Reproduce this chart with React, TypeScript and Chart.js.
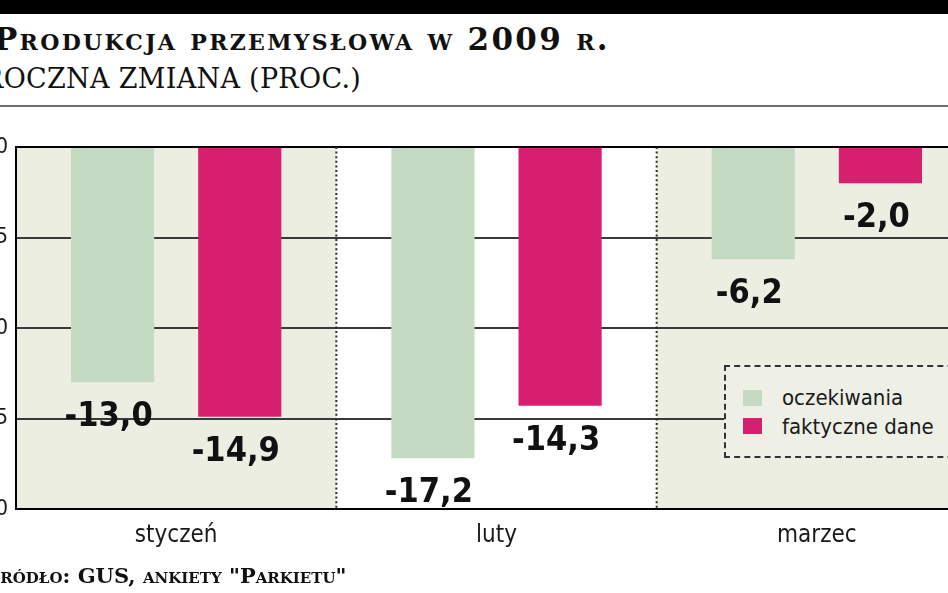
import React, { useEffect, useRef } from 'react';
import { Chart, registerables } from 'chart.js';

Chart.register(...registerables);

const TITLE = 'Produkcja przemysłowa w 2009 r.';
const SUBTITLE = 'ROCZNA ZMIANA (PROC.)';
const SOURCE = 'Źródło: GUS, ankiety "Parkietu"';

const categories = ['styczeń', 'luty', 'marzec'];
const seriesNames = ['oczekiwania', 'faktyczne dane'];
const expected = [-13.0, -17.2, -6.2];
const actual = [-14.9, -14.3, -2.0];
const yTicks = [0, -5, -10, -15, -20];

const COLORS = ['#c5dac3', '#d6206f'];
const BANDS = ['#eceee2', '#ffffff'];
const SANS = "'DejaVu Sans Condensed', 'DejaVu Sans', sans-serif";
const SERIF = "'DejaVu Serif', serif";

export default function App() {
  const ref = useRef<HTMLCanvasElement>(null);

  useEffect(() => {
    const bands = {
      id: 'bands',
      beforeDraw(chart: any) {
        const { ctx, chartArea } = chart;
        const xs = chart.scales.x;
        const half = (chartArea.right - chartArea.left) / categories.length / 2;
        ctx.save();
        categories.forEach((_, i) => {
          const cx = xs.getPixelForValue(i);
          ctx.fillStyle = BANDS[i % 2];
          ctx.fillRect(cx - half, chartArea.top, half * 2, chartArea.bottom - chartArea.top);
        });
        ctx.restore();
      },
    };
    const separators = {
      id: 'separators',
      beforeDatasetsDraw(chart: any) {
        const { ctx, chartArea } = chart;
        const xs = chart.scales.x;
        ctx.save();
        ctx.strokeStyle = '#2a2a2a';
        ctx.lineWidth = 2;
        ctx.setLineDash([2, 2.6]);
        for (let i = 0; i < categories.length - 1; i++) {
          const x = (xs.getPixelForValue(i) + xs.getPixelForValue(i + 1)) / 2;
          ctx.beginPath();
          ctx.moveTo(x, chartArea.top);
          ctx.lineTo(x, chartArea.bottom);
          ctx.stroke();
        }
        ctx.restore();
      },
    };
    const valueLabels = {
      id: 'valueLabels',
      afterDatasetsDraw(chart: any) {
        const { ctx } = chart;
        ctx.save();
        ctx.font = `bold 34px ${SANS}`;
        ctx.fillStyle = '#111111';
        ctx.textAlign = 'center';
        ctx.textBaseline = 'alphabetic';
        chart.data.datasets.forEach((ds: any, di: number) => {
          chart.getDatasetMeta(di).data.forEach((bar: any, i: number) => {
            const v = ds.data[i] as number;
            ctx.fillText(v.toFixed(1).replace('.', ','), bar.x - 4, bar.y + 44);
          });
        });
        ctx.restore();
      },
    };

    const chart = new Chart(ref.current as HTMLCanvasElement, {
      type: 'bar',
      data: {
        labels: categories,
        datasets: [
          {
            label: seriesNames[0],
            data: expected,
            backgroundColor: COLORS[0],
            categoryPercentage: 0.794,
            barPercentage: 0.654,
          },
          {
            label: seriesNames[1],
            data: actual,
            backgroundColor: COLORS[1],
            categoryPercentage: 0.794,
            barPercentage: 0.654,
          },
        ],
      },
      options: {
        animation: false,
        responsive: false,
        devicePixelRatio: 1,
        layout: { padding: { top: 22, right: 39, left: 0, bottom: 0 } },
        plugins: {
          legend: { display: false },
          tooltip: { enabled: false },
        },
        scales: {
          x: {
            grid: { display: false, drawTicks: false },
            border: { display: true, color: '#000000', width: 2 },
            ticks: { color: '#1a1a1a', font: { family: SANS, size: 24 }, padding: 12 },
            afterFit: (s: any) => {
              s.height = 56;
            },
          },
          y: {
            min: -20,
            max: 0,
            afterBuildTicks: (s: any) => {
              s.ticks = yTicks.map((v) => ({ value: v }));
            },
            grid: {
              color: (c: any) => (c.tick && c.tick.value === 0 ? '#000000' : '#3a3a3a'),
              lineWidth: 2,
              drawTicks: false,
            },
            border: { display: true, color: '#000000', width: 2 },
            ticks: { color: '#1a1a1a', font: { family: SANS, size: 22 }, padding: 8 },
            afterFit: (s: any) => {
              s.width = 60;
            },
          },
        },
      },
      plugins: [bands, separators, valueLabels],
    });
    return () => chart.destroy();
  }, []);

  const abs = (o: any) => ({ position: 'absolute' as const, whiteSpace: 'nowrap' as const, ...o });

  return (
    <div
      style={{
        position: 'fixed',
        left: 0,
        top: 0,
        width: 948,
        height: 593,
        overflow: 'hidden',
        background: '#ffffff',
      }}
    >
      <div style={abs({ left: 0, top: 0, width: 948, height: 14, background: '#000' })} />
      <div
        style={abs({
          left: -6,
          top: 24,
          fontFamily: SERIF,
          fontWeight: 'bold',
          fontVariant: 'small-caps',
          fontSize: 31,
          lineHeight: '30px',
          color: '#111',
          letterSpacing: 2.3,
        })}
      >
        {TITLE}
      </div>
      <div
        style={abs({
          left: -17,
          top: 64,
          fontFamily: SERIF,
          fontSize: 27,
          lineHeight: '30px',
          color: '#111',
          letterSpacing: 0.3,
        })}
      >
        {SUBTITLE}
      </div>
      <div style={abs({ left: 0, top: 105, width: 948, height: 2, background: '#6d6d6d' })} />
      <canvas
        ref={ref}
        width={1060}
        height={440}
        style={{ position: 'absolute', left: -44, top: 125, width: 1060, height: 440 }}
      />
      <div
        style={abs({
          left: 724,
          top: 365,
          width: 260,
          height: 93,
          boxSizing: 'border-box',
          border: '2px dashed #333',
          background: '#eef0e6',
        })}
      >
        {seriesNames.map((name, i) => (
          <React.Fragment key={name}>
            <div
              style={abs({ left: 17, top: 23 + i * 28, width: 19, height: 16, background: COLORS[i] })}
            />
            <div
              style={abs({
                left: 56,
                top: 19 + i * 29,
                fontFamily: SANS,
                fontSize: 22,
                lineHeight: '24px',
                color: '#1a1a1a',
              })}
            >
              {name}
            </div>
          </React.Fragment>
        ))}
      </div>
      <div
        style={abs({
          left: -15,
          top: 564,
          fontFamily: SERIF,
          fontWeight: 'bold',
          fontVariant: 'small-caps',
          fontSize: 21,
          lineHeight: '24px',
          color: '#111',
        })}
      >
        {SOURCE}
      </div>
    </div>
  );
}
